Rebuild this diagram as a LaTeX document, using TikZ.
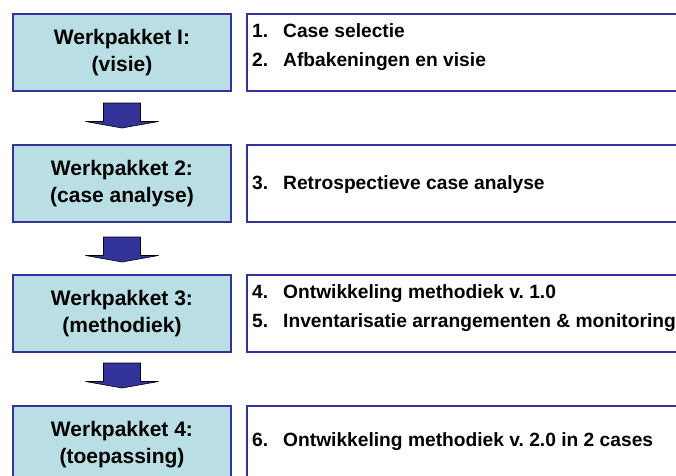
\documentclass[tikz,border=0pt]{standalone}
\usepackage{fontspec}
\setmainfont{Liberation Sans}
\usetikzlibrary{calc}
\definecolor{wpfill}{HTML}{B9DFE4}
\definecolor{wpline}{HTML}{333399}
\definecolor{arrowfill}{HTML}{333399}
\tikzset{
  wpbox/.style={draw=wpline, line width=2pt, fill=wpfill, minimum width=218pt,
    minimum height=77pt, anchor=north west, align=center, inner sep=0pt,
    font=\bfseries\fontsize{21}{27}\selectfont},
  taskbox/.style={draw=wpline, line width=2pt, fill=white, minimum width=480pt,
    minimum height=77pt, anchor=north west, inner sep=0pt},
  tasktext/.style={anchor=west, align=left, inner sep=0pt,
    font=\bfseries\fontsize{19.2}{29}\selectfont},
  blockarrow/.style={draw=black, line width=0.6pt, fill=arrowfill, line join=miter}
}
\newcommand{\itm}[2]{\makebox[31pt][l]{#1}#2}
\frenchspacing
\begin{document}
\begin{tikzpicture}[x=1pt, y=-1pt]
  \useasboundingbox (0,0) rectangle (676,475);
  \clip (0,0) rectangle (676,475);

  % work packages (left column)
  \node[wpbox] (w1) at (12,13)  {Werkpakket I:\\(visie)};
  \node[wpbox] (w2) at (12,144) {Werkpakket 2:\\(case analyse)};
  \node[wpbox] (w3) at (12,274) {Werkpakket 3:\\(methodiek)};
  \node[wpbox] (w4) at (12,405) {Werkpakket 4:\\(toepassing)};

  % task frames (right column)
  \node[taskbox] (t1) at (246,13)  {};
  \node[taskbox] (t2) at (246,144) {};
  \node[taskbox] (t3) at (246,274) {};
  \node[taskbox] (t4) at (246,405) {};

  % task lists
  \node[tasktext] (l1) at ($(t1.west)+(6,-5)$) {\itm{1.}{Case selectie}\\\itm{2.}{Afbakeningen en visie}};
  \node[tasktext] (l2) at ($(t2.west)+(6,1)$)  {\itm{3.}{Retrospectieve case analyse}};
  \node[tasktext] (l3) at ($(t3.west)+(6,-5)$) {\itm{4.}{Ontwikkeling methodiek v. 1.0}\\\itm{5.}{Inventarisatie arrangementen \& monitoring}};
  \node[tasktext] (l4) at ($(t4.west)+(6,-3)$) {\itm{6.}{Ontwikkeling methodiek v. 2.0 in 2 cases}};

  % block arrows between work packages
  \foreach \a/\off in {w1/11, w2/14, w3/10} {
    \draw[blockarrow]
      ($(\a.south)+(-18.5,\off)$) -- ++(37,0) -- ++(0,18.5)
      -- ++(18,0) -- ($(\a.south)+(0,\off+25)$) -- ($(\a.south)+(-36.5,\off+18.5)$)
      -- ++(18,0) -- cycle;
  }
\end{tikzpicture}
\end{document}
